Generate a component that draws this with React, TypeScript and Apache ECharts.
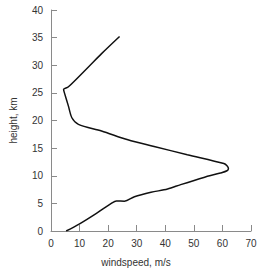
import React, { useEffect, useRef } from "react";
import * as echarts from "echarts";

const windspeed = [5.3, 10, 15.9, 21.1, 22.9, 25.7, 29.2, 35, 40.8, 45.4, 53.5, 59.3, 61.6, 62.1, 61.6, 60.5, 47.7, 36.1, 26.9, 17.7, 9.6, 7.3, 6.1, 4.7, 4.4, 6.1, 13.1, 17.7, 24];
const height = [0, 1.3, 3.2, 5.0, 5.45, 5.4, 6.2, 7.0, 7.6, 8.4, 9.7, 10.5, 10.9, 11.3, 11.8, 12.2, 13.8, 15.3, 16.5, 18.1, 19.3, 20.5, 22.6, 25.0, 25.6, 26.1, 29.7, 32.1, 35.2];

export default function App() {
  const ref = useRef<HTMLDivElement>(null);
  useEffect(() => {
    const chart = echarts.init(ref.current!, null, { renderer: "svg" });
    const font = "'Liberation Sans', Arial, sans-serif";
    const axisColor = "#8a8a8a";
    chart.setOption({
      animation: false,
      grid: { left: 49, top: 10, right: 13, bottom: 42 },
      xAxis: {
        type: "value",
        min: 0,
        max: 70,
        interval: 10,
        name: "windspeed, m/s",
        nameLocation: "middle",
        nameGap: 26,
        nameTextStyle: { fontFamily: font, fontSize: 10, color: "#333", padding: [0, 30, 0, 0] },
        axisLine: { show: true, lineStyle: { color: axisColor, width: 1 } },
        axisTick: { show: true, inside: true, length: 6, lineStyle: { color: axisColor } },
        axisLabel: { fontFamily: font, fontSize: 10, color: "#333", margin: 7 },
        splitLine: { show: false },
      },
      yAxis: {
        type: "value",
        min: 0,
        max: 40,
        interval: 5,
        name: "height, km",
        nameLocation: "middle",
        nameGap: 33,
        nameTextStyle: { fontFamily: font, fontSize: 10, color: "#333" },
        axisLine: { show: true, lineStyle: { color: axisColor, width: 1 } },
        axisTick: { show: true, inside: true, length: 6, lineStyle: { color: axisColor } },
        axisLabel: { fontFamily: font, fontSize: 10, color: "#333", margin: 8 },
        splitLine: { show: false },
      },
      series: [
        {
          type: "line",
          data: windspeed.map((w, i) => [w, height[i]]),
          showSymbol: false,
          smooth: 0.3,
          lineStyle: { color: "#111", width: 1.5 },
        },
      ],
    });
    return () => chart.dispose();
  }, []);
  return <div ref={ref} style={{ width: 264, height: 273, position: "absolute", left: 0, top: 0 }} />;
}
